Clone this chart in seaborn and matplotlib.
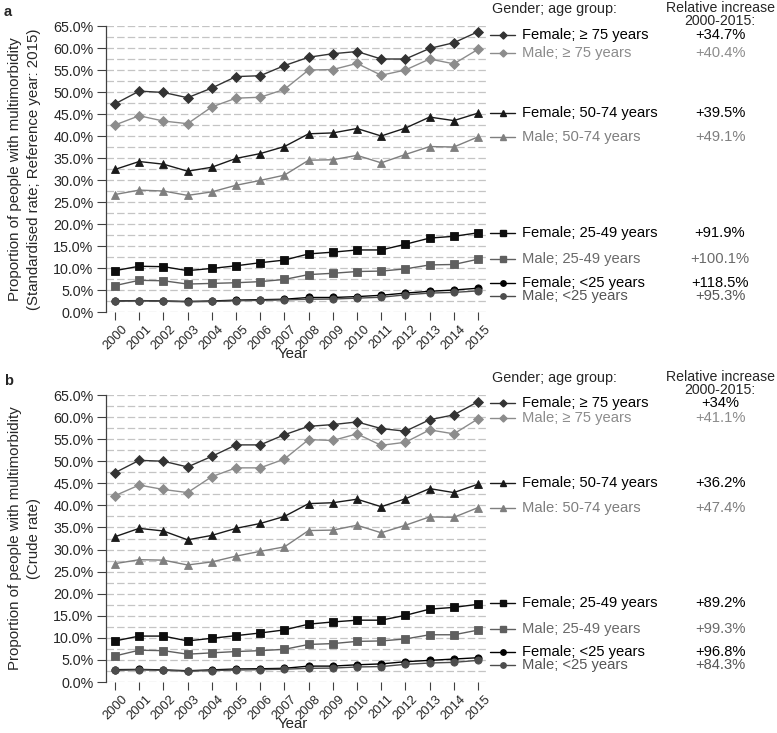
import numpy as np
import pandas as pd
import matplotlib
matplotlib.use("Agg")
import matplotlib.pyplot as plt
from matplotlib.lines import Line2D
from matplotlib.ticker import FuncFormatter, MultipleLocator
import seaborn as sns

sns.set_theme(style="white")
plt.rcParams['font.family'] = ['Liberation Sans', 'DejaVu Sans']
plt.rcParams['ytick.left'] = True
plt.rcParams['xtick.bottom'] = True

years = list(range(2000, 2016))

groups_a = ["Female; \u2265 75 years", "Male; \u2265 75 years",
            "Female; 50-74 years", "Male; 50-74 years",
            "Female; 25-49 years", "Male; 25-49 years",
            "Female; <25 years", "Male; <25 years"]
groups_b = ["Female; \u2265 75 years", "Male; \u2265 75 years",
            "Female; 50-74 years", "Male: 50-74 years",
            "Female; 25-49 years", "Male; 25-49 years",
            "Female; <25 years", "Male; <25 years"]

# Panel a: standardised rate (%)
a_f75 = [47.3, 50.2, 49.9, 48.7, 50.9, 53.5, 53.7, 56.0, 57.9, 58.7, 59.2, 57.5, 57.5, 59.9, 61.2, 63.7]
a_m75 = [42.5, 44.6, 43.4, 42.8, 46.6, 48.6, 48.8, 50.6, 55.0, 55.1, 56.5, 53.8, 55.0, 57.5, 56.4, 59.7]
a_f50 = [32.4, 34.2, 33.6, 32.0, 32.9, 34.9, 36.0, 37.6, 40.5, 40.7, 41.7, 40.0, 41.8, 44.3, 43.5, 45.2]
a_m50 = [26.7, 27.7, 27.5, 26.5, 27.3, 28.8, 29.9, 31.1, 34.5, 34.6, 35.6, 33.9, 35.8, 37.6, 37.5, 39.8]
a_f25 = [9.4, 10.4, 10.3, 9.4, 9.9, 10.5, 11.2, 11.8, 13.2, 13.6, 14.1, 14.1, 15.4, 16.8, 17.2, 18.0]
a_m25 = [6.0, 7.2, 7.1, 6.35, 6.5, 6.65, 6.9, 7.4, 8.5, 8.8, 9.2, 9.3, 9.8, 10.7, 10.8, 12.0]
a_fu25 = [2.5, 2.6, 2.5, 2.4, 2.5, 2.7, 2.8, 2.9, 3.3, 3.3, 3.5, 3.8, 4.3, 4.7, 5.0, 5.4]
a_mu25 = [2.45, 2.55, 2.45, 2.3, 2.4, 2.55, 2.65, 2.75, 2.9, 2.95, 3.15, 3.35, 3.9, 4.3, 4.45, 4.8]
a_rel = ["+34.7%", "+40.4%", "+39.5%", "+49.1%", "+91.9%", "+100.1%", "+118.5%", "+95.3%"]

# Panel b: crude rate (%)
b_f75 = [47.4, 50.2, 50.0, 48.7, 51.1, 53.7, 53.7, 56.0, 57.9, 58.3, 58.9, 57.4, 56.8, 59.4, 60.5, 63.5]
b_m75 = [42.2, 44.6, 43.6, 42.9, 46.5, 48.5, 48.5, 50.5, 54.9, 54.7, 56.2, 53.6, 54.3, 57.1, 56.2, 59.6]
b_f50 = [32.9, 34.8, 34.2, 32.2, 33.2, 34.8, 35.9, 37.5, 40.4, 40.6, 41.4, 39.7, 41.5, 43.8, 42.9, 44.8]
b_m50 = [26.8, 27.7, 27.6, 26.5, 27.2, 28.5, 29.6, 30.6, 34.3, 34.4, 35.5, 33.8, 35.5, 37.4, 37.3, 39.5]
b_f25 = [9.3, 10.4, 10.4, 9.3, 9.9, 10.5, 11.1, 11.8, 13.1, 13.6, 14.0, 14.0, 15.1, 16.5, 16.9, 17.6]
b_m25 = [5.9, 7.2, 7.1, 6.3, 6.6, 6.9, 7.1, 7.4, 8.5, 8.7, 9.2, 9.3, 9.75, 10.7, 10.7, 11.75]
b_fu25 = [2.8, 2.85, 2.75, 2.55, 2.75, 2.95, 3.0, 3.1, 3.6, 3.6, 3.9, 4.1, 4.6, 4.9, 5.2, 5.5]
b_mu25 = [2.65, 2.75, 2.65, 2.45, 2.6, 2.7, 2.8, 2.9, 3.1, 3.15, 3.4, 3.5, 4.0, 4.3, 4.45, 4.9]
b_rel = ["+34%", "+41.1%", "+36.2%", "+47.4%", "+89.2%", "+99.3%", "+96.8%", "+84.3%"]

# styling
line_colors = ["#333333", "#8c8c8c", "#1a1a1a", "#7f7f7f", "#0d0d0d", "#5f5f5f", "#000000", "#4d4d4d"]
text_colors = ["#000000", "#8c8c8c", "#000000", "#7f7f7f", "#000000", "#6a6a6a", "#000000", "#555555"]
markers = ["D", "D", "^", "^", "s", "s", "o", "o"]
msizes = [4.8, 4.8, 6.2, 6.2, 5.2, 5.2, 5.2, 5.2]

W, H = 777, 733
fig = plt.figure(figsize=(W / 100, H / 100), dpi=100)

def fx(x):
    return x / W

def fy(y):
    return 1 - y / H

def draw_panel(top_px, bottom_px, groups, series, rel, label_rows, letter, ylab2, header_y):
    ax = fig.add_axes([fx(106), fy(bottom_px), fx(487 - 106), (bottom_px - top_px) / H])
    df = pd.concat([pd.DataFrame({"Year": years, "Value": vals, "Group": g})
                    for g, vals in zip(groups, series)], ignore_index=True)
    pal = dict(zip(groups, line_colors))
    mk = dict(zip(groups, markers))
    sns.lineplot(data=df, x="Year", y="Value", hue="Group", style="Group",
                 palette=pal, markers=mk, dashes=False, linewidth=1.0,
                 markersize=6, markeredgewidth=0.6, legend=False, ax=ax)
    for line, g, ms, c in zip(ax.get_lines(), groups, msizes, line_colors):
        line.set_markersize(ms)
        line.set_markeredgecolor(c)
        line.set_clip_on(False)
        line.set_zorder(3)
    ax.set_xlim(1999.63, 2015.37)
    ax.set_ylim(0, 65)
    ax.yaxis.set_major_locator(MultipleLocator(5))
    ax.yaxis.set_minor_locator(MultipleLocator(2.5))
    ax.yaxis.set_major_formatter(FuncFormatter(lambda v, p: f"{v:.1f}%"))
    ax.set_xticks(years)
    ax.set_xticklabels([str(y) for y in years], rotation=45, ha="center", fontsize=9.3)
    ax.tick_params(axis="y", which="major", direction="out", length=6.5, width=0.8,
                   color="#404040", labelsize=10.3, pad=2.5, left=True)
    ax.tick_params(axis="y", which="minor", length=0, left=False)
    ax.tick_params(axis="x", direction="out", length=6, width=0.8, color="#404040",
                   pad=2, bottom=True)
    ax.grid(True, axis="y", which="both", linestyle=(0, (6, 2.5)), color="#c4c4c4", linewidth=0.9)
    ax.set_axisbelow(True)
    for s in ["top", "right", "bottom"]:
        ax.spines[s].set_visible(False)
    ax.spines["left"].set_color("#404040")
    ax.spines["left"].set_linewidth(0.9)
    ax.set_xlabel("")
    ax.set_ylabel("")

    # y label (two lines)
    cy = (top_px + bottom_px) / 2
    fig.text(fx(15), fy(cy), "Proportion of people with multimorbidity", rotation=90,
             ha="center", va="center", fontsize=10.8)
    fig.text(fx(34), fy(cy), ylab2, rotation=90, ha="center", va="center", fontsize=10.8)
    # x label
    fig.text(fx(293), fy(bottom_px + 42), "Year", ha="center", va="center", fontsize=10.8)
    # panel letter
    fig.text(fx(4), fy(top_px - 14), letter, ha="left", va="center", fontsize=10.5,
             weight="bold")
    # headers
    fig.text(fx(492), fy(header_y), "Gender; age group:", ha="left", va="center", fontsize=10.4)
    fig.text(fx(720), fy(header_y - 1), "Relative increase", ha="center", va="center", fontsize=10.2)
    fig.text(fx(720), fy(header_y + 12), "2000-2015:", ha="center", va="center", fontsize=10.2)
    # legend rows
    for g, r, ry, lc, tc, m, ms in zip(groups, rel, label_rows, line_colors, text_colors, markers, msizes):
        fig.add_artist(Line2D([fx(490), fx(515)], [fy(ry), fy(ry)], color=lc, linewidth=1.0,
                              transform=fig.transFigure))
        fig.add_artist(Line2D([fx(502.5)], [fy(ry)], color=lc, marker=m, markersize=ms * 0.75,
                              markeredgecolor=lc, transform=fig.transFigure))
        fig.text(fx(522), fy(ry), g, ha="left", va="center", fontsize=10.6, color=tc)
        fig.text(fx(720), fy(ry), r, ha="center", va="center", fontsize=10.6, color=tc)
    return ax

rows_a = [35, 53.3, 113.3, 137.3, 232.7, 259, 282.7, 296]
rows_b = [403.3, 417.7, 483.3, 507.7, 603.3, 629.3, 651.7, 665]

draw_panel(26, 312, groups_a, [a_f75, a_m75, a_f50, a_m50, a_f25, a_m25, a_fu25, a_mu25],
           a_rel, rows_a, "a", "(Standardised rate; Reference year: 2015)", 9)
draw_panel(395, 682, groups_b, [b_f75, b_m75, b_f50, b_m50, b_f25, b_m25, b_fu25, b_mu25],
           b_rel, rows_b, "b", "(Crude rate)", 378)

fig.savefig("out.png", dpi=100)
